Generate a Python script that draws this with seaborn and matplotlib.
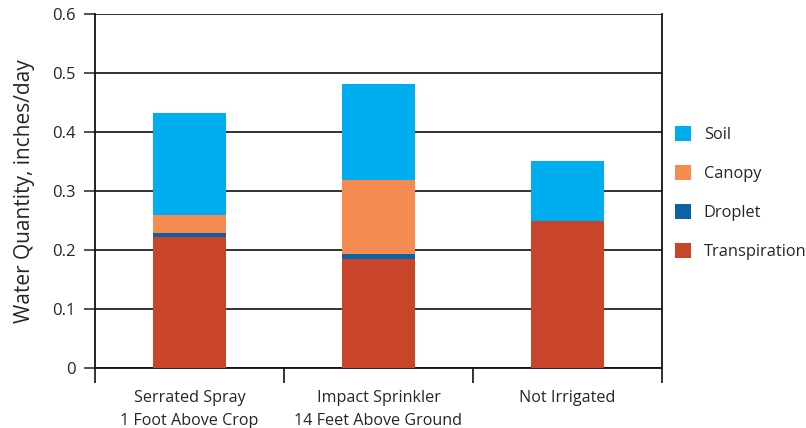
import matplotlib
matplotlib.use("Agg")
import matplotlib.pyplot as plt
from matplotlib.patches import Patch
import seaborn as sns
import numpy as np

categories = ["Serrated Spray\n1 Foot Above Crop", "Impact Sprinkler\n14 Feet Above Ground", "Not Irrigated"]
transpiration = [0.222, 0.185, 0.249]
droplet = [0.007, 0.009, 0.0]
canopy = [0.031, 0.125, 0.0]
soil = [0.173, 0.162, 0.102]

series_names = ["Transpiration", "Droplet", "Canopy", "Soil"]
series_vals = [transpiration, droplet, canopy, soil]
colors = {"Soil": "#00AEEF", "Canopy": "#F68B52", "Droplet": "#0B62A4", "Transpiration": "#C8452A"}
yticks = [0, 0.1, 0.2, 0.3, 0.4, 0.5, 0.6]
ytick_labels = ["0", "0.1", "0.2", "0.3", "0.4", "0.5", "0.6"]

sns.set_theme(style="white")
plt.rcParams["font.family"] = ["Open Sans", "DejaVu Sans"]

fig = plt.figure(figsize=(8.06, 4.28), dpi=100)
ax = fig.add_axes([95/806, 1-368/428, (662-95)/806, (368-14)/428])

bottom = np.zeros(len(categories))
for name, vals in zip(series_names, series_vals):
    sns.barplot(x=categories, y=vals, bottom=bottom, color=colors[name], width=0.39,
                saturation=1, ax=ax, linewidth=0, zorder=3)
    bottom = bottom + np.array(vals)

ax.set_xlim(-0.5, 2.5)
ax.set_ylim(0, 0.6)
ax.set_yticks(yticks)
ax.set_yticklabels(ytick_labels, fontsize=12)
ax.yaxis.grid(True, color="#222222", linewidth=1.3, zorder=0)
ax.set_axisbelow(True)
ax.tick_params(axis="y", which="major", length=8, width=1.2, color="#333333", pad=6, left=True)
ax.set_xticks([0, 1, 2])
ax.set_xticklabels(categories, fontsize=11.6, linespacing=1.55)
ax.tick_params(axis="x", which="major", length=0, pad=16)
ax.set_xticks([-0.5, 0.5, 1.5, 2.5], minor=True)
ax.tick_params(axis="x", which="minor", length=11, width=1.2, color="#111111", bottom=True)
for s in ["left", "right", "bottom", "top"]:
    ax.spines[s].set_visible(True)
    ax.spines[s].set_color("#111111")
    ax.spines[s].set_linewidth(1.3)
ax.spines["top"].set_visible(False)
ax.set_ylabel("Water Quantity, inches/day", fontsize=15, labelpad=12)
ax.set_xlabel("")

handles = [Patch(facecolor=colors[n], edgecolor="none", label=n) for n in ["Soil", "Canopy", "Droplet", "Transpiration"]]
fig.legend(handles=handles, loc="center left", bbox_to_anchor=(675/806, 1-193/428), frameon=False,
           fontsize=11.8, handlelength=1.0, handleheight=1.0, handletextpad=0.75, labelspacing=1.35,
           borderaxespad=0, borderpad=0)

fig.savefig("out.png", dpi=100)
